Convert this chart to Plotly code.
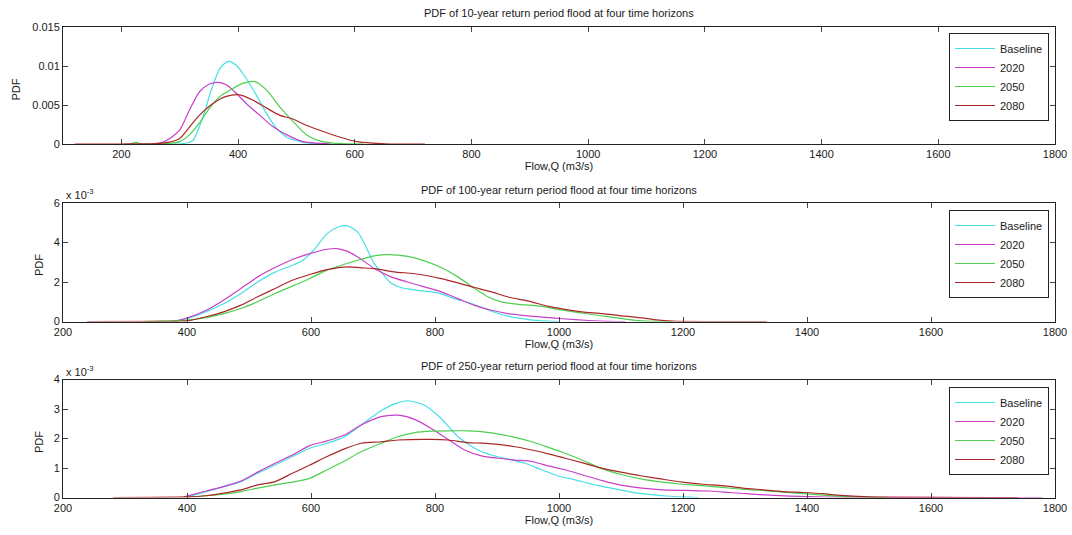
import plotly.graph_objects as go

# ---------------- data ----------------
series_names = ["Baseline", "2020", "2050", "2080"]
series_colors = ["#45e0e4", "#c840c8", "#4fcf4f", "#ab2828"]

titles = [
    "PDF of 10-year return period flood at four time horizons",
    "PDF of 100-year return period flood at four time horizons",
    "PDF of 250-year return period flood at four time horizons",
]
x_label = "Flow,Q (m3/s)"
y_label = "PDF"

# 10-year return period (PDF values)
q10_base_x = [290, 310, 323, 340, 354, 369, 383, 397, 414, 431, 449, 466, 483, 506, 530, 545]
q10_base_y = [0, 0.0001, 0.0005, 0.0035, 0.0069, 0.0097, 0.0106, 0.0101, 0.0084, 0.0063,
              0.0039, 0.0020, 0.0009, 0.0003, 0.00005, 0]
q10_2020_x = [255, 270, 285, 300, 317, 334, 351, 366, 380, 397, 414, 437, 460, 483, 511, 535, 560]
q10_2020_y = [0, 0.0002, 0.0008, 0.0018, 0.0044, 0.0067, 0.0077, 0.0079, 0.0076, 0.0065,
              0.0052, 0.0037, 0.0022, 0.0012, 0.0003, 0.0001, 0]
q10_2050_x = [215, 225, 235, 260, 285, 300, 317, 334, 351, 369, 386, 409, 429, 449, 471,
              494, 517, 540, 563, 590, 615]
q10_2050_y = [0, 0.0002, 0, 0, 0.0001, 0.0003, 0.0012, 0.0027, 0.0046, 0.0061, 0.0069,
              0.0078, 0.0080, 0.0069, 0.0048, 0.0029, 0.0012, 0.0004, 0.0001, 0.00002, 0]
q10_2080_x = [120, 200, 260, 280, 300, 317, 334, 357, 380, 403, 426, 449, 471, 494, 517,
              546, 574, 603, 631, 660, 720]
q10_2080_y = [0, 0, 0.00005, 0.0002, 0.0007, 0.0022, 0.0037, 0.0052, 0.0061, 0.0063, 0.0056,
              0.0046, 0.0037, 0.0032, 0.0024, 0.0016, 0.0009, 0.0003, 0.0001, 0, 0]

# 100-year return period (PDF values)
q100_base_x = [375, 400, 431, 459, 487, 514, 542, 570, 587, 604, 626, 645, 659, 676, 693,
               702, 716, 729, 745, 772, 805, 831, 859, 891, 918, 951, 983, 1000]
q100_base_y = [0, 0.00015, 0.0005, 0.0009, 0.00142, 0.0020, 0.0025, 0.00285, 0.0031, 0.0036,
               0.00445, 0.0048, 0.00484, 0.0045, 0.0035, 0.00293, 0.0024, 0.00195, 0.00172,
               0.00158, 0.00145, 0.00116, 0.00091, 0.00052, 0.00027, 0.0001, 0.00002, 0]
q100_2020_x = [380, 400, 431, 459, 487, 514, 542, 570, 598, 626, 642, 659, 681, 702, 729,
               756, 783, 810, 837, 864, 891, 918, 951, 983, 1005, 1048, 1080, 1107]
q100_2020_y = [0, 0.00017, 0.00057, 0.00108, 0.00167, 0.00226, 0.00273, 0.00314, 0.00344,
               0.00366, 0.00369, 0.00355, 0.00315, 0.00268, 0.00226, 0.0020, 0.00175, 0.0015,
               0.00116, 0.00082, 0.00057, 0.0004, 0.00028, 0.0002, 0.00014, 0.00005, 0.00001, 0]
q100_2050_x = [330, 400, 431, 459, 487, 514, 542, 570, 598, 626, 654, 681, 702, 724, 756,
               783, 810, 837, 864, 886, 907, 934, 972, 1005, 1037, 1070, 1107, 1134, 1183]
q100_2050_y = [0, 0.00007, 0.0002, 0.0004, 0.00066, 0.001, 0.00142, 0.00179, 0.00218,
               0.0026, 0.0029, 0.00315, 0.00332, 0.00339, 0.0033, 0.00307, 0.00273, 0.00226,
               0.00167, 0.00124, 0.00099, 0.00087, 0.00077, 0.00058, 0.00043, 0.00028,
               0.00012, 0.00003, 0]
q100_2080_x = [239, 380, 400, 431, 459, 487, 514, 542, 570, 598, 626, 659, 681, 702, 737,
               765, 810, 864, 891, 918, 951, 983, 1005, 1037, 1070, 1102, 1134, 1153, 1183,
               1250, 1335]
q100_2080_y = [0, 0.00001, 0.00003, 0.00024, 0.00049, 0.00083, 0.00125, 0.00167, 0.00209,
               0.00238, 0.00263, 0.00277, 0.00272, 0.00268, 0.0025, 0.00243, 0.00217, 0.00172,
               0.0015, 0.00124, 0.00103, 0.00077, 0.00064, 0.00049, 0.0004, 0.00028, 0.00018,
               0.0001, 0.00002, 0, 0]

# 250-year return period (PDF values)
q250_base_x = [400, 431, 459, 487, 514, 542, 570, 598, 626, 654, 681, 713, 737, 756, 783,
               810, 837, 864, 891, 918, 945, 972, 999, 1026, 1053, 1070, 1102, 1134, 1167,
               1199, 1226]
q250_base_y = [0.00002, 0.0002, 0.00037, 0.00054, 0.00082, 0.0011, 0.00139, 0.00167, 0.00184,
               0.00206, 0.00246, 0.00294, 0.00319, 0.00328, 0.00313, 0.00268, 0.00206,
               0.00167, 0.00144, 0.0013, 0.00116, 0.00094, 0.00073, 0.0006, 0.00045, 0.00038,
               0.00024, 0.00013, 0.00006, 0.00002, 0]
q250_2020_x = [395, 431, 459, 487, 514, 542, 570, 598, 626, 654, 681, 713, 740, 767, 794,
               821, 848, 875, 902, 929, 956, 983, 1010, 1037, 1070, 1102, 1134, 1167, 1205,
               1242, 1275, 1307, 1340, 1372, 1404, 1450, 1550, 1650, 1780]
q250_2020_y = [0.00002, 0.00022, 0.00037, 0.00056, 0.00086, 0.00116, 0.00144, 0.00176,
               0.00192, 0.00212, 0.00246, 0.00274, 0.00279, 0.00265, 0.00234, 0.00197,
               0.00161, 0.00141, 0.00133, 0.00127, 0.00122, 0.00107, 0.00094, 0.00077,
               0.00057, 0.00041, 0.00032, 0.00026, 0.00024, 0.00022, 0.00017, 0.00012,
               0.00008, 0.00005, 0.00003, 0.00001, 0.000005, 0, 0]
q250_2050_x = [400, 431, 459, 487, 514, 542, 570, 598, 626, 654, 681, 713, 740, 767, 794,
               821, 853, 875, 902, 929, 956, 983, 1010, 1037, 1070, 1102, 1134, 1167, 1199,
               1232, 1264, 1296, 1329, 1361, 1394, 1426, 1448, 1475, 1530]
q250_2050_y = [0.00002, 0.00006, 0.00011, 0.0002, 0.00032, 0.00043, 0.00052, 0.00065,
               0.00094, 0.00124, 0.00155, 0.00184, 0.00206, 0.0022, 0.00225, 0.00226,
               0.00226, 0.00223, 0.00215, 0.00204, 0.00189, 0.0017, 0.0015, 0.00127,
               0.00097, 0.00077, 0.00062, 0.00052, 0.00045, 0.0004, 0.00034, 0.00028,
               0.00024, 0.00018, 0.00013, 0.00008, 0.00005, 0.00002, 0]
q250_2080_x = [281, 400, 431, 459, 487, 514, 542, 570, 598, 626, 654, 681, 713, 740, 794,
               821, 853, 875, 902, 929, 956, 983, 1010, 1037, 1070, 1102, 1134, 1167, 1199,
               1232, 1264, 1296, 1329, 1361, 1394, 1426, 1448, 1500, 1740]
q250_2080_y = [0, 0.00002, 0.00006, 0.00015, 0.00026, 0.00043, 0.00054, 0.00082, 0.0011,
               0.00139, 0.00165, 0.00184, 0.00189, 0.00195, 0.00197, 0.00195, 0.00186,
               0.00184, 0.0018, 0.00172, 0.00161, 0.00148, 0.00133, 0.00118, 0.00099,
               0.00085, 0.00073, 0.00062, 0.00052, 0.00045, 0.0004, 0.00032, 0.00026,
               0.0002, 0.00017, 0.00013, 0.00008, 0.00002, 0]

x_ranges = [[100, 1800], [200, 1800], [200, 1800]]
x_ticks = [200, 400, 600, 800, 1000, 1200, 1400, 1600, 1800]
y_ranges = [[0, 0.015], [0, 0.006], [0, 0.004]]
y_tickvals = [[0, 0.005, 0.01, 0.015], [0, 0.002, 0.004, 0.006], [0, 0.001, 0.002, 0.003, 0.004]]
y_ticktext = [["0", "0.005", "0.01", "0.015"], ["0", "2", "4", "6"], ["0", "1", "2", "3", "4"]]
exp_label = "x 10<sup>-3</sup>"

panels = [
    [(q10_base_x, q10_base_y), (q10_2020_x, q10_2020_y), (q10_2050_x, q10_2050_y), (q10_2080_x, q10_2080_y)],
    [(q100_base_x, q100_base_y), (q100_2020_x, q100_2020_y), (q100_2050_x, q100_2050_y), (q100_2080_x, q100_2080_y)],
    [(q250_base_x, q250_base_y), (q250_2020_x, q250_2020_y), (q250_2050_x, q250_2050_y), (q250_2080_x, q250_2080_y)],
]

# ---------------- layout geometry (page pixels) ----------------
W, H = 1072, 535
ax_left, ax_right = 63, 1055
ax_tops = [27, 203, 379.5]
ax_bottoms = [144, 321.5, 497.5]
title_y = [13, 189.5, 366]
legend_tops = [33, 210, 387]
legend_right = 1049
ytitle_x = [15.5, 39, 39]
ytitle_y = [90, 265, 442]


def px_x(v):
    return v / W


def px_y(v):
    return 1 - v / H


FONT = "Liberation Sans, Arial, sans-serif"
TXT = "#1a1a1a"

fig = go.Figure()
legend_ids = ["legend", "legend2", "legend3"]

for p, panel in enumerate(panels):
    for s, (xs, ys) in enumerate(panel):
        fig.add_trace(go.Scatter(
            x=xs, y=ys, mode="lines", name=series_names[s],
            line=dict(color=series_colors[s], width=1.2, shape="spline", smoothing=0.7),
            xaxis="x" if p == 0 else f"x{p+1}",
            yaxis="y" if p == 0 else f"y{p+1}",
            legend=legend_ids[p], showlegend=True,
        ))

layout = dict(
    width=W, height=H,
    margin=dict(l=0, r=0, t=0, b=0),
    paper_bgcolor="white", plot_bgcolor="white",
    font=dict(family=FONT, size=11, color=TXT),
    annotations=[],
)

for p in range(3):
    xa = "xaxis" if p == 0 else f"xaxis{p+1}"
    ya = "yaxis" if p == 0 else f"yaxis{p+1}"
    ykey = "y" if p == 0 else f"y{p+1}"
    xkey = "x" if p == 0 else f"x{p+1}"
    common = dict(showline=True, linecolor="#222", linewidth=1, mirror="allticks",
                  ticks="inside", ticklen=5, tickcolor="#444", tickwidth=1,
                  showgrid=False, zeroline=False, automargin=False,
                  tickfont=dict(family=FONT, size=11, color=TXT))
    layout[xa] = dict(common, domain=[px_x(ax_left), px_x(ax_right)], range=x_ranges[p],
                      tickvals=x_ticks if p == 0 else [200] + x_ticks,
                      anchor=ykey,
                      title=dict(text=x_label, standoff=3, font=dict(size=11)))
    layout[ya] = dict(common, domain=[px_y(ax_bottoms[p]), px_y(ax_tops[p])],
                      range=y_ranges[p], tickvals=y_tickvals[p], ticktext=y_ticktext[p],
                      anchor=xkey)
    layout[legend_ids[p]] = dict(
        x=px_x(legend_right), xanchor="right", y=px_y(legend_tops[p]), yanchor="top",
        bgcolor="white", bordercolor="#222", borderwidth=1,
        font=dict(family=FONT, size=11, color=TXT), tracegroupgap=0, itemwidth=40,
    )
    # y-axis label "PDF"
    layout["annotations"].append(dict(
        text=y_label, x=px_x(ytitle_x[p]), y=px_y(ytitle_y[p]), textangle=-90,
        xref="paper", yref="paper", xanchor="center", yanchor="middle",
        showarrow=False, font=dict(size=11, color=TXT)))
    # panel title
    layout["annotations"].append(dict(
        text=titles[p], x=px_x((ax_left + ax_right) / 2), y=px_y(title_y[p]),
        xref="paper", yref="paper", xanchor="center", yanchor="middle",
        showarrow=False, font=dict(size=11, color=TXT)))
    if p > 0:
        layout["annotations"].append(dict(
            text=exp_label, x=px_x(64), y=px_y(ax_tops[p] - 9),
            xref="paper", yref="paper", xanchor="left", yanchor="middle",
            showarrow=False, font=dict(size=11, color=TXT)))

fig.update_layout(**layout)
fig.write_html(
    "out.html",
    config={"displayModeBar": False},
    post_script="document.body.style.margin='0';document.body.style.overflow='hidden';",
)
